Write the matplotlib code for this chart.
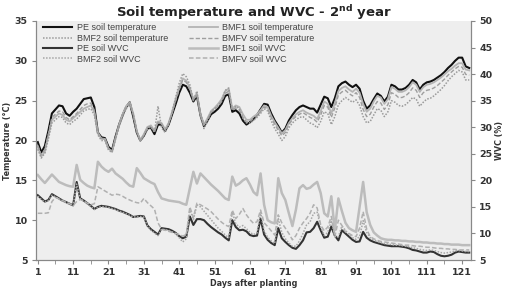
import matplotlib
matplotlib.use("Agg")
import matplotlib.pyplot as plt
import numpy as np

# days after planting (1..123)
days = np.arange(1, 124)

# soil temperature, degC (left axis)
pe_temp = [
    19.8, 18.5, 19.3, 21.2, 23.4, 23.9, 24.4, 24.3, 23.4, 23.1,
    23.6, 24.0, 24.6, 25.2, 25.3, 25.4, 24.2, 21.0, 20.4, 20.3,
    19.2, 18.8, 20.5, 22.0, 23.2, 24.2, 24.8, 23.0, 21.0, 20.0,
    20.6, 21.5, 21.6, 20.8, 22.0, 22.0, 21.2, 22.0, 23.3, 24.6,
    26.0, 27.0, 26.8, 26.0, 24.9, 25.6, 23.2, 21.8, 22.5, 23.3,
    23.6, 24.0, 24.6, 25.6, 25.8, 23.6, 23.8, 23.4, 22.5, 22.0,
    22.3, 22.7, 23.2, 23.9, 24.6, 24.5, 23.4, 22.5, 21.8, 21.0,
    21.5, 22.5, 23.2, 23.8, 24.2, 24.4, 24.2, 24.0, 24.0, 23.5,
    24.5, 25.5, 25.3, 24.2, 25.3, 26.8, 27.2, 27.4, 27.0, 26.7,
    27.0, 26.5, 25.0, 24.0, 24.4, 25.2, 25.9, 25.6, 24.9, 25.5,
    27.0, 26.8, 26.4, 26.4, 26.6, 27.0, 27.6, 27.3, 26.4, 27.0,
    27.3, 27.4, 27.6, 27.9, 28.2, 28.6, 29.1, 29.5, 30.0, 30.4,
    30.4, 29.3, 29.1,
]
bmf1_temp = [
    19.2, 18.0, 18.6, 20.6, 22.6, 23.0, 23.4, 23.2, 22.6, 22.4,
    22.8, 23.2, 23.6, 24.0, 24.2, 24.4, 23.6, 21.0, 20.2, 20.2,
    19.0, 18.6, 20.3, 22.0, 23.3, 24.3, 24.8, 23.4, 21.2, 20.0,
    20.8, 21.7, 21.9, 21.2, 22.4, 22.2, 21.4, 22.2, 23.6, 25.2,
    26.6, 27.8, 27.5, 26.6, 25.2, 25.9, 23.3, 22.0, 22.8, 23.7,
    24.1, 24.6, 25.2, 26.2, 26.5, 24.0, 24.4, 24.2, 23.3, 22.6,
    22.6, 23.0, 23.3, 23.8, 24.4, 24.2, 23.1, 22.3, 21.6, 20.9,
    21.3, 22.2, 22.8, 23.3, 23.6, 23.8, 23.5, 23.3, 23.1, 22.7,
    23.7, 24.9, 24.6, 23.4, 24.7, 26.2, 26.6, 26.8, 26.4, 26.1,
    26.5, 26.0, 24.6, 23.6, 24.0, 24.9, 25.6, 25.4, 24.6, 25.2,
    26.7, 26.5, 26.1, 26.1, 26.3, 26.7, 27.3, 27.0, 26.1, 26.7,
    27.0, 27.1, 27.3, 27.6, 27.9, 28.3, 28.7, 29.0, 29.4, 29.7,
    29.7, 28.9, 28.8,
]
bmf2_temp = [
    18.9, 17.8, 18.4, 20.2, 22.2, 22.6, 23.0, 22.9, 22.2, 22.0,
    22.4, 22.7, 23.2, 23.7, 23.9, 24.0, 23.2, 20.7, 20.0, 20.0,
    18.8, 18.5, 20.2, 21.8, 23.0, 24.0, 24.6, 23.2, 21.0, 19.9,
    20.6, 21.4, 21.7, 21.0, 24.3, 21.6, 21.0, 22.0, 23.6, 25.4,
    27.2, 28.4, 28.0, 27.0, 25.0, 26.2, 23.0, 21.5, 22.4, 23.6,
    24.0, 24.4, 25.0, 26.3, 26.6, 23.8, 24.3, 24.0, 22.8, 22.2,
    22.2, 22.5, 22.9, 23.4, 24.0, 23.7, 22.5, 21.5, 20.8, 20.0,
    20.5, 21.6, 22.2, 22.6, 22.9, 23.0, 22.6, 22.2, 22.0, 21.6,
    22.4, 23.6, 23.4, 22.0, 23.0, 24.5, 25.0, 25.4, 25.1, 24.8,
    25.1, 24.4, 23.0, 22.2, 22.4, 23.2, 24.0, 23.8, 23.0, 23.6,
    25.0, 24.8, 24.4, 24.3, 24.5, 24.9, 25.4, 25.2, 24.3, 24.8,
    25.2, 25.3, 25.6, 26.0, 26.4, 26.9, 27.5, 28.0, 28.4, 28.8,
    28.6, 27.6, 27.6,
]
bmfv_temp = [
    19.4, 18.2, 18.9, 20.8, 22.9, 23.3, 23.7, 23.6, 22.9, 22.6,
    23.0, 23.4, 23.9, 24.4, 24.6, 24.7, 23.8, 20.9, 20.3, 20.2,
    19.0, 18.6, 20.4, 21.9, 23.2, 24.2, 24.7, 23.3, 21.1, 20.0,
    20.7, 21.6, 21.8, 21.1, 22.3, 22.1, 21.3, 22.1, 23.5, 25.0,
    26.4, 27.6, 27.3, 26.4, 25.0, 25.8, 23.2, 21.9, 22.7, 23.5,
    23.9, 24.3, 24.9, 25.9, 26.2, 23.8, 24.1, 23.8, 22.9, 22.3,
    22.4, 22.8, 23.1, 23.6, 24.2, 24.0, 22.9, 22.0, 21.3, 20.6,
    21.0, 22.0, 22.6, 23.0, 23.3, 23.5, 23.2, 22.9, 22.7, 22.3,
    23.2, 24.4, 24.2, 22.9, 24.1, 25.7, 26.1, 26.3, 25.9, 25.6,
    26.0, 25.4, 23.9, 23.0, 23.3, 24.2, 24.9, 24.7, 23.9, 24.5,
    26.0, 25.8, 25.4, 25.4, 25.6, 26.0, 26.6, 26.3, 25.4, 26.0,
    26.3, 26.4, 26.6, 26.9, 27.3, 27.7, 28.2, 28.6, 29.0, 29.3,
    29.2, 28.3, 28.2,
]

# soil water content, % (right axis)
pe_wvc = [
    17.2, 16.6, 16.0, 16.3, 17.4, 17.0, 16.6, 16.2, 15.9, 15.6,
    15.3, 19.7, 16.6, 16.2, 15.7, 15.2, 14.6, 15.0, 15.2, 15.1,
    15.0, 14.8, 14.6, 14.3, 14.1, 13.8, 13.5, 13.1, 13.2, 13.3,
    13.2, 11.5, 10.8, 10.3, 9.8, 11.0, 10.9, 10.8, 10.5, 10.1,
    9.5, 9.1, 9.4, 13.2, 11.6, 12.7, 12.7, 12.5, 11.8, 11.2,
    10.7, 10.2, 9.8, 9.2, 8.7, 12.5, 11.2, 10.6, 10.7, 10.4,
    9.7, 9.5, 9.6, 12.8, 9.8, 8.8, 8.2, 7.8, 11.0, 9.1,
    8.4, 7.8, 7.3, 7.1, 7.8, 8.7, 10.2, 10.3, 11.0, 12.2,
    10.6, 9.2, 9.4, 11.3, 9.6, 8.7, 10.6, 10.0, 9.4, 8.8,
    8.4, 8.5, 10.3, 9.2, 8.7, 8.4, 8.2, 8.0, 7.8, 7.7,
    7.6, 7.6, 7.6, 7.5, 7.4, 7.2, 6.9, 6.8, 6.6, 6.4,
    6.4, 6.6, 6.5, 6.1, 5.8, 5.7, 5.8, 6.0, 6.4, 6.6,
    6.5, 6.4, 6.4,
]
bmf1_wvc = [
    21.0, 20.2, 19.5, 20.3, 21.1, 20.4, 19.7, 19.4, 19.1, 18.9,
    18.8, 22.9, 20.1, 19.5, 19.0, 18.7, 18.5, 23.5, 22.6, 22.0,
    21.6, 22.2, 21.3, 20.8, 20.3, 19.6, 19.0, 18.8, 22.3, 21.4,
    20.4, 20.0, 19.6, 19.3, 17.8, 16.6, 16.4, 16.2, 16.1, 16.0,
    15.9, 15.6, 15.4, 18.5, 21.6, 19.4, 21.3, 20.6, 19.9, 19.2,
    18.6, 18.0, 17.3, 16.6, 16.3, 20.7, 19.0, 19.4, 20.0, 20.4,
    19.2, 17.8, 17.2, 21.3, 15.4, 12.5, 12.1, 11.9, 20.4, 17.6,
    16.3, 13.8, 11.4, 14.5, 18.5, 19.1, 18.4, 18.6, 19.2, 19.7,
    17.6, 13.8, 13.2, 17.0, 10.6, 16.6, 14.2, 12.0, 11.0, 10.6,
    10.3, 15.0, 19.7, 14.0, 11.6, 10.2, 9.6, 9.1, 8.9, 8.8,
    8.8, 8.7, 8.7, 8.6, 8.6, 8.5, 8.5, 8.4, 8.4, 8.3,
    8.3, 8.2, 8.2, 8.1, 8.1, 8.0, 8.0, 7.9, 7.9, 7.9,
    7.8, 7.8, 7.8,
]
bmf2_wvc = [
    17.0, 16.4, 15.9, 16.2, 17.2, 16.9, 16.5, 16.1, 15.8, 15.5,
    15.2, 19.3, 16.5, 16.1, 15.6, 15.1, 14.5, 14.9, 15.1, 15.0,
    14.9, 14.7, 14.5, 14.2, 14.0, 13.7, 13.4, 13.1, 13.1, 13.2,
    13.1, 11.4, 10.6, 10.1, 9.6, 10.8, 10.7, 10.6, 10.3, 9.9,
    9.2, 8.4, 9.0, 14.6, 12.6, 15.4, 15.0, 14.2, 13.4, 12.6,
    11.8, 11.0, 10.4, 9.7, 9.2, 14.0, 11.8, 11.2, 11.5, 10.9,
    10.2, 9.8, 10.1, 14.0, 10.5, 9.3, 8.6, 8.1, 12.8, 10.2,
    9.0, 8.2, 7.6, 7.6, 8.6, 10.0, 11.6, 12.2, 13.8, 14.0,
    11.2, 9.6, 10.2, 12.4, 9.4, 9.4, 11.4, 10.6, 9.8, 9.2,
    8.9, 9.4, 12.4, 10.2, 9.2, 8.8, 8.5, 8.3, 8.1, 8.0,
    7.9, 7.8, 7.8, 7.7, 7.6, 7.5, 7.3, 7.2, 7.0, 6.9,
    6.8, 6.9, 6.8, 6.6, 6.4, 6.3, 6.4, 6.5, 6.7, 6.8,
    6.7, 6.6, 6.6,
]
bmfv_wvc = [
    13.8, 13.8, 13.8, 13.9, 16.0, 16.8, 16.5, 16.2, 15.9, 15.6,
    15.3, 16.0, 16.4, 16.1, 15.7, 15.4, 15.6, 18.8, 18.4, 18.0,
    17.6, 17.2, 17.4, 17.3, 17.0, 16.6, 16.3, 16.0, 15.8, 15.7,
    16.6, 15.8, 15.2, 14.6, 12.0, 10.8, 10.6, 10.4, 10.2, 10.0,
    9.8, 9.5, 9.8, 15.0, 13.0, 15.7, 15.4, 15.0, 14.6, 14.1,
    13.4, 12.7, 12.1, 11.6, 11.3, 14.4, 12.8, 13.6, 14.7, 13.5,
    12.6, 11.9, 12.2, 14.4, 12.0, 11.3, 10.5, 9.7, 13.5, 12.0,
    11.0, 10.0, 8.8, 9.6, 11.0, 12.0, 12.8, 13.8, 15.4, 14.8,
    11.6, 10.5, 11.2, 13.2, 9.4, 12.5, 11.5, 10.3, 10.0, 9.6,
    9.4, 11.0, 14.1, 10.8, 9.4, 9.0, 8.7, 8.5, 8.4, 8.3,
    8.2, 8.1, 8.0, 7.9, 7.8, 7.8, 7.7, 7.6, 7.6, 7.5,
    7.4, 7.4, 7.3, 7.2, 7.2, 7.1, 7.1, 7.0, 7.0, 6.9,
    6.9, 6.9, 6.9,
]

x_labels = [1, 11, 21, 31, 41, 51, 61, 71, 81, 91, 101, 111, 121]

tick_font = dict(family="DejaVu Sans", size=6.8, weight="bold", color="#333333")
label_font = dict(family="DejaVu Sans", fontsize=5.8, weight="bold", color="#333333")

fig = plt.figure(figsize=(5.07, 2.90), dpi=100)
fig.patch.set_facecolor("white")
ax = fig.add_axes([0.071, 0.1034, 0.858, 0.8242])
ax.set_facecolor("#eeeeee")
ax2 = ax.twinx()

l1, = ax.plot(days, pe_temp, color="#111111", lw=1.5, label="PE soil temperature")
l2, = ax.plot(days, bmf1_temp, color="#b4b4b4", lw=1.3, label="BMF1 soil temperature")
l3, = ax.plot(days, bmf2_temp, color="#9a9a9a", lw=1.1, ls=(0, (1, 1)), label="BMF2 soil temperature")
l4, = ax.plot(days, bmfv_temp, color="#9e9e9e", lw=1.0, ls=(0, (3, 1.5)), label="BMFV soil temperature")

l5, = ax2.plot(days, pe_wvc, color="#333333", lw=1.5, label="PE soil WVC")
l6, = ax2.plot(days, bmf1_wvc, color="#bcbcbc", lw=1.8, label="BMF1 soil WVC")
l7, = ax2.plot(days, bmf2_wvc, color="#a6a6a6", lw=1.1, ls=(0, (1, 1)), label="BMF2 soil WVC")
l8, = ax2.plot(days, bmfv_wvc, color="#b0b0b0", lw=1.1, ls=(0, (3, 1.5)), label="BMFV soil WVC")

ax.set_xlim(0.5, 123.5)
ax.set_ylim(5, 35)
ax2.set_ylim(5, 50)
ax.set_yticks(range(5, 36, 5))
ax2.set_yticks(range(5, 51, 5))
ax.set_xticks(x_labels)
ax.set_xticks(range(6, 124, 10), minor=True)
ax.set_xticklabels([str(v) for v in x_labels])

for a in (ax, ax2):
    for lab in a.get_yticklabels() + a.get_xticklabels():
        lab.set(**tick_font)
    a.tick_params(axis="both", which="both", direction="out", length=3,
                  color="#888888", pad=3)
    a.spines["top"].set_visible(False)
    for s in ("left", "right", "bottom"):
        a.spines[s].set_color("#888888")
        a.spines[s].set_linewidth(0.8)

ax.set_xlabel("Days after planting", labelpad=1, **label_font)
ax.set_ylabel("Temperature (\u00b0C)", labelpad=2, **label_font)
ax2.set_ylabel("WVC (%)", labelpad=2, **label_font)

fig.text(0.5, 0.958, r"Soil temperature and WVC - 2$^{\mathbf{nd}}$ year",
         ha="center", va="center", fontsize=9.5, weight="bold", color="#222222")

handles = [l1, l3, l5, l7, l2, l4, l6, l8]
leg = ax2.legend(handles=handles, loc="upper left", bbox_to_anchor=(0.0, 1.02),
                 ncol=2, frameon=False, fontsize=6.5, handlelength=3.2,
                 labelspacing=0.15, columnspacing=2.3, handletextpad=0.5,
                 borderpad=0.3)
for t in leg.get_texts():
    t.set_color("#444444")
    t.set_family("Liberation Sans")

fig.savefig("out.png", dpi=100, facecolor="white")
